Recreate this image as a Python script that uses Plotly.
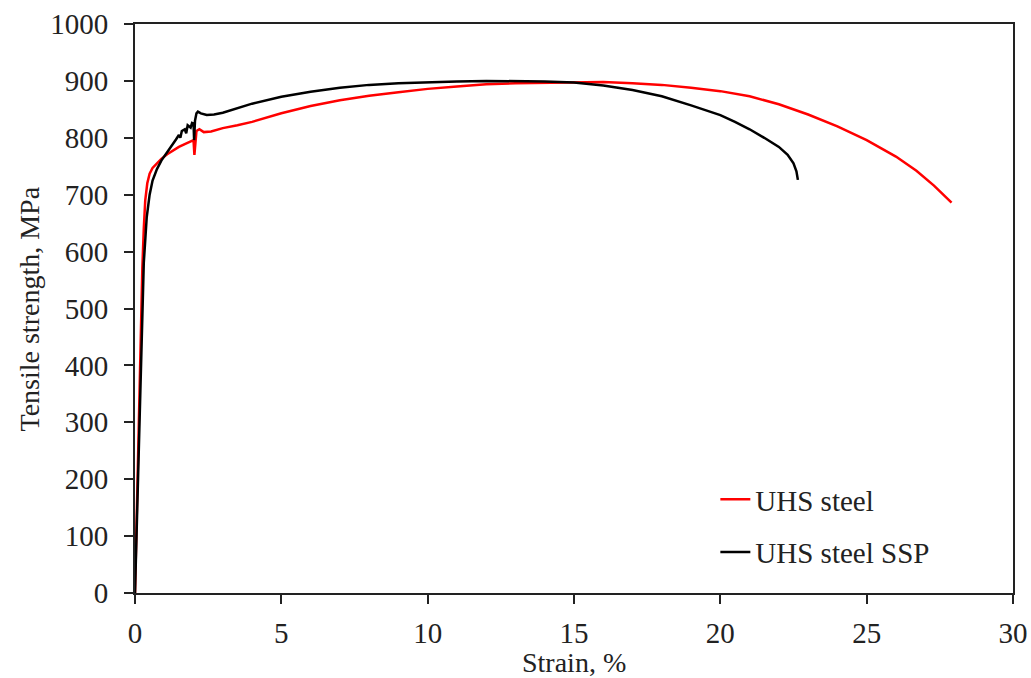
import plotly.graph_objects as go

# UHS steel (red)
uhs_strain = [0, 0.05, 0.1, 0.15, 0.2, 0.25, 0.3, 0.35, 0.42, 0.5, 0.6, 0.75, 0.9, 1.1, 1.3, 1.5,
              1.7, 1.9, 2.0, 2.03, 2.06, 2.1, 2.2, 2.35, 2.6, 3.0, 3.5, 4.0, 5.0, 6.0, 7.0, 8.0,
              9.0, 10.0, 11.0, 12.0, 13.0, 14.0, 15.0, 16.0, 17.0, 18.0, 19.0, 20.0, 21.0, 22.0,
              23.0, 24.0, 25.0, 26.0, 26.7, 27.3, 27.9]
uhs_stress = [0, 120, 240, 360, 470, 570, 640, 690, 720, 737, 747, 755, 763, 771, 778, 784,
              789, 793, 796, 770, 790, 812, 815, 810, 811, 817, 822, 828, 843, 856, 866, 874,
              880, 886, 890, 894, 896, 897, 898, 898, 896, 893, 888, 882, 873, 859, 841, 820,
              796, 767, 742, 716, 686]

# UHS steel SSP (black)
ssp_strain = [0, 0.05, 0.1, 0.15, 0.2, 0.25, 0.3, 0.4, 0.5, 0.6, 0.75, 0.9, 1.0, 1.15, 1.3,
              1.4, 1.5, 1.55, 1.6, 1.7, 1.75, 1.8, 1.9, 1.95, 2.0, 2.02, 2.05, 2.1, 2.15, 2.25,
              2.45, 2.7, 3.0, 3.5, 4.0, 5.0, 6.0, 7.0, 8.0, 9.0, 10.0, 11.0, 12.0, 13.0, 14.0,
              15.0, 16.0, 17.0, 18.0, 19.0, 20.0, 20.5, 21.0, 21.5, 22.0, 22.3, 22.5, 22.6, 22.65]
ssp_stress = [0, 100, 200, 300, 400, 490, 580, 660, 700, 725, 745, 760, 767, 779, 790,
              797, 805, 800, 812, 815, 808, 822, 818, 826, 825, 796, 830, 843, 846, 843,
              840, 841, 844, 852, 860, 872, 881, 888, 893, 896, 898, 899, 900, 900, 899,
              897, 892, 884, 873, 857, 840, 828, 815, 800, 784, 770, 755, 741, 726]

x_title = "Strain, %"
y_title = "Tensile strength, MPa"

font_family = "Liberation Serif, Times New Roman, serif"
axis_color = "#222222"
text_color = "#222222"

fig = go.Figure()
fig.add_trace(go.Scatter(x=uhs_strain, y=uhs_stress, mode="lines", name="UHS steel",
                         legendgroup="a",
                         line=dict(color="#ff0000", width=2.5)))
fig.add_trace(go.Scatter(x=ssp_strain, y=ssp_stress, mode="lines", name="UHS steel SSP",
                         legendgroup="b",
                         line=dict(color="#000000", width=2.5)))

fig.update_layout(
    width=1031, height=678,
    margin=dict(l=135, r=18, t=24, b=85),
    paper_bgcolor="white", plot_bgcolor="white",
    font=dict(family=font_family, size=28, color=text_color),
    showlegend=True,
    legend=dict(x=0.661, y=0.118, xanchor="left", yanchor="middle",
                bgcolor="rgba(0,0,0,0)", borderwidth=0,
                font=dict(size=29, family=font_family, color=text_color),
                itemwidth=30, tracegroupgap=12),
    annotations=[
        dict(text=x_title, xref="paper", yref="paper", x=0.5, y=-0.123,
             xanchor="center", yanchor="middle", showarrow=False,
             font=dict(size=28, family=font_family, color=text_color)),
        dict(text=y_title, xref="paper", yref="paper", x=-0.1196, y=0.5,
             xanchor="center", yanchor="middle", showarrow=False, textangle=-90,
             font=dict(size=28, family=font_family, color=text_color)),
    ],
)
fig.update_xaxes(
    range=[0, 30], tickvals=[0, 5, 10, 15, 20, 25, 30],
    showgrid=False, zeroline=False, automargin=False,
    showline=True, linecolor=axis_color, linewidth=2, mirror=True,
    ticks="outside", ticklen=9, tickwidth=2, tickcolor=axis_color,
    ticklabelstandoff=4, tickfont=dict(size=29),
)
fig.update_yaxes(
    range=[0, 1000], tickvals=list(range(0, 1001, 100)),
    showgrid=False, zeroline=False, automargin=False,
    showline=True, linecolor=axis_color, linewidth=2, mirror=True,
    ticks="outside", ticklen=9, tickwidth=2, tickcolor=axis_color,
    ticklabelstandoff=10, tickfont=dict(size=29),
)

fig.write_html("out.html")
